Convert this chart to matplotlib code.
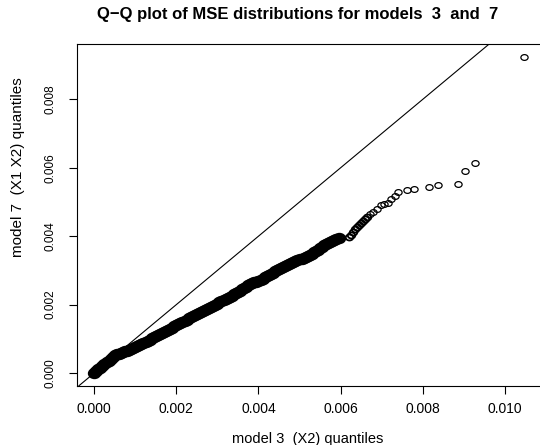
import matplotlib
matplotlib.use("Agg")
import matplotlib.pyplot as plt
import numpy as np
from matplotlib.path import Path
from matplotlib.transforms import Affine2D

# Q-Q pairs, in units of 1e-4
model3_q = [
    0.0, 0.5, 1.0, 1.5, 2.0, 2.5, 3.0, 3.5, 4.0, 4.5,
    5.0, 5.5, 6.0, 6.5, 7.0, 7.5, 8.0, 8.5, 9.0, 9.5,
    10.0, 10.5, 11.0, 11.5, 12.0, 12.5, 13.0, 13.5, 14.0, 14.5,
    15.0, 15.5, 16.0, 16.5, 17.0, 17.5, 18.0, 18.5, 19.0, 19.5,
    20.0, 20.5, 21.0, 21.5, 22.0, 22.5, 23.0, 23.5, 24.0, 24.5,
    25.0, 25.5, 26.0, 26.5, 27.0, 27.5, 28.0, 28.5, 29.0, 29.5,
    30.0, 30.5, 31.0, 31.5, 32.0, 32.5, 33.0, 33.5, 34.0, 34.5,
    35.0, 35.5, 36.0, 36.5, 37.0, 37.5, 38.0, 38.5, 39.0, 39.5,
    40.0, 40.5, 41.0, 41.5, 42.0, 42.5, 43.0, 43.5, 44.0, 44.5,
    45.0, 45.5, 46.0, 46.5, 47.0, 47.5, 48.0, 48.5, 49.0, 49.5,
    50.0, 50.5, 51.0, 51.5, 52.0, 52.5, 53.0, 53.5, 54.0, 54.5,
    55.0, 55.5, 56.0, 56.5, 57.0, 57.5, 58.0, 58.5, 59.0, 59.5,
    62.04, 62.53, 63.02, 63.50, 63.99, 64.48, 64.96, 65.45, 65.94, 66.42,
    67.15, 67.88, 68.86, 69.83, 70.56, 71.53, 72.38, 73.24, 73.97, 76.08,
    77.98, 81.51, 83.82, 88.69, 90.34, 92.70, 104.62,
]
model7_q = [
    0.0, 0.5, 1.05, 1.55, 2.1, 2.6, 3.1, 3.65, 4.15, 4.7,
    5.2, 5.5, 5.7, 5.9, 6.15, 6.35, 6.55, 6.8, 7.1, 7.4,
    7.7, 8.0, 8.3, 8.6, 8.9, 9.2, 9.5, 9.8, 10.1, 10.4,
    10.7, 11.0, 11.3, 11.65, 12.0, 12.3, 12.65, 13.0, 13.3, 13.65,
    14.0, 14.3, 14.65, 15.0, 15.3, 15.6, 15.95, 16.25, 16.55, 16.85,
    17.2, 17.5, 17.8, 18.1, 18.45, 18.75, 19.05, 19.35, 19.7, 20.0,
    20.3, 20.65, 20.95, 21.25, 21.6, 21.9, 22.25, 22.6, 23.0, 23.35,
    23.75, 24.1, 24.5, 24.85, 25.25, 25.6, 26.0, 26.25, 26.5, 26.75,
    27.0, 27.3, 27.6, 27.95, 28.3, 28.65, 29.0, 29.35, 29.7, 30.05,
    30.4, 30.75, 31.1, 31.35, 31.6, 31.9, 32.15, 32.4, 32.65, 32.95,
    33.2, 33.45, 33.7, 33.95, 34.2, 34.45, 34.85, 35.25, 35.7, 36.1,
    36.55, 36.95, 37.3, 37.6, 37.9, 38.2, 38.55, 38.85, 39.15, 39.45,
    39.77, 40.35, 41.23, 42.11, 42.69, 43.27, 43.86, 44.44, 45.03, 45.61,
    46.35, 47.22, 48.10, 48.98, 49.42, 49.85, 50.88, 51.90, 52.78, 53.51,
    53.80, 54.47, 54.97, 55.18, 59.15, 61.32, 92.49,
]
n_dense = 120  # the first points overlap into a solid band
n_cluster = 10  # then a short, darker run of overlapping circles

x_ticks = [0.000, 0.002, 0.004, 0.006, 0.008, 0.010]
y_ticks = [0.000, 0.002, 0.004, 0.006, 0.008]

plt.rcParams["font.family"] = ["Liberation Sans", "DejaVu Sans"]

x = np.array(model3_q) * 1e-4
y = np.array(model7_q) * 1e-4

fig = plt.figure(figsize=(5.4, 4.45), dpi=100)
ax = fig.add_axes([77 / 540, 59.3 / 445, 464 / 540, 341.7 / 445])

# R's open circle, a bit wider than tall in this picture
ring = Affine2D().scale(1.0, 0.8).transform_path(Path.unit_circle())

k = n_dense + n_cluster
ax.plot(x[:n_dense], y[:n_dense], linestyle="none", marker=ring,
        markersize=7.0, markerfacecolor="none", markeredgecolor="black",
        markeredgewidth=2.6)
ax.plot(x[n_dense:k], y[n_dense:k], linestyle="none", marker=ring,
        markersize=5.4, markerfacecolor="none", markeredgecolor="black",
        markeredgewidth=1.3)
ax.plot(x[k:], y[k:], linestyle="none", marker=ring,
        markersize=5.2, markerfacecolor="none", markeredgecolor="black",
        markeredgewidth=0.9)
ax.axline((0, 0), slope=1, color="black", linewidth=0.8)

ax.set_xlim(-0.04 * x.max(), 1.04 * x.max())
ax.set_ylim(-0.04 * y.max(), 1.04 * y.max())

ax.set_xticks(x_ticks)
ax.set_xticklabels([f"{t:.3f}" for t in x_ticks], fontsize=10)
ax.set_yticks(y_ticks)
ax.set_yticklabels([f"{t:.3f}" for t in y_ticks], fontsize=8.5,
                   rotation=90, va="center")
ax.tick_params(direction="out", length=5.5, width=0.8, color="black")
ax.tick_params(axis="x", pad=6)
ax.tick_params(axis="y", pad=9)
for s in ax.spines.values():
    s.set_linewidth(0.8)
    s.set_color("black")

fig.text(298 / 540, 1 - 15 / 445,
         "Q\u2212Q plot of MSE distributions for models  3  and  7",
         ha="center", va="center", fontsize=12, fontweight="bold")
fig.text(308 / 540, 1 - 439 / 445, "model 3  (X2) quantiles",
         ha="center", va="center", fontsize=10.5)
fig.text(18 / 540, 1 - 167 / 445, "model 7  (X1 X2) quantiles",
         ha="center", va="center", fontsize=11, rotation=90)

fig.savefig("out.png", dpi=100)
